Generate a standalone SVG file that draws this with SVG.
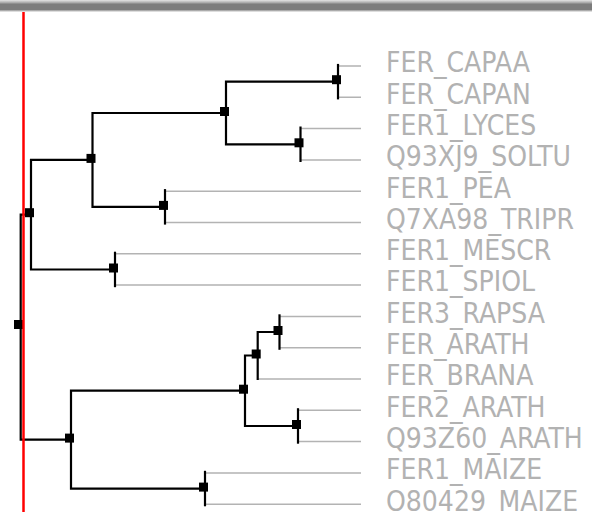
<svg xmlns="http://www.w3.org/2000/svg" width="592" height="512" viewBox="0 0 592 512">
  <defs>
    <linearGradient id="bar" x1="0" y1="0" x2="0" y2="1">
      <stop offset="0" stop-color="#e4e4e4"/>
      <stop offset="0.2" stop-color="#b0b0b0"/>
      <stop offset="0.35" stop-color="#7c7c7c"/>
      <stop offset="0.8" stop-color="#7c7c7c"/>
      <stop offset="0.92" stop-color="#c8c8c8"/>
      <stop offset="1" stop-color="#f4f4f4"/>
    </linearGradient>
  </defs>
  <style>
    .br { fill: none; stroke: #000; stroke-width: 2.2; stroke-linejoin: miter; stroke-linecap: square; }
    .lf { fill: none; stroke: #b3b3b3; stroke-width: 1.5; }
    .nd { fill: #000; }
    .lb { font-family: "DejaVu Sans Condensed", "DejaVu Sans", sans-serif; font-stretch: condensed; font-size: 28px; fill: #b2b2b2; }
  </style>
  <rect x="0" y="0" width="592" height="512" fill="#fff"/>
  <rect x="0" y="0" width="592" height="12" fill="url(#bar)"/>

  <g id="connectors">
    <!-- leaf branches -->
    <path class="lf" d="M338,66 H361 M338,97.3 H361 M300.5,128.6 H361 M300.5,159.9 H361 M165,191.2 H361 M165,222.5 H361 M115,253.8 H361 M115,285.1 H361 M279.5,316.4 H361 M279.5,347.7 H361 M257.7,379 H361 M298,410.3 H361 M298,441.6 H361 M205,472.9 H361 M205,504.2 H361"/>
    <!-- internal branches -->
    <path class="br" d="M31,214.7 H20.7 V439.6 H71"/>
    <path class="br" d="M92.5,159.9 H31 V269.5 H115"/>
    <path class="br" d="M226,113 H92.5 V206.9 H165"/>
    <path class="br" d="M338,81.7 H226 V144.3 H300.5"/>
    <path class="br" d="M245,390.7 H71 V488.6 H205"/>
    <path class="br" d="M257.7,355.5 H245 V426 H298"/>
    <path class="br" d="M279.5,332 H257.7 V379"/>
    <path class="br" d="M338,65 V98.3"/>
    <path class="br" d="M300.5,127.6 V160.9"/>
    <path class="br" d="M165,190.2 V223.5"/>
    <path class="br" d="M115,252.8 V286.1"/>
    <path class="br" d="M279.5,315.4 V348.7"/>
    <path class="br" d="M298,409.3 V442.6"/>
    <path class="br" d="M205,471.9 V505.2"/>
  </g>

  <g id="root"><rect class="nd" x="14" y="320" width="9" height="9"/></g>
  <g id="n7"><rect class="nd" x="25" y="208.2" width="9" height="9"/></g>
  <g id="n5"><rect class="nd" x="86.5" y="153.9" width="9" height="9"/></g>
  <g id="n3"><rect class="nd" x="220" y="107" width="9" height="9"/></g>
  <g id="n1"><rect class="nd" x="332" y="75.2" width="9" height="9"/></g>
  <g id="n2"><rect class="nd" x="294.5" y="138.3" width="9" height="9"/></g>
  <g id="n4"><rect class="nd" x="159" y="200.9" width="9" height="9"/></g>
  <g id="n6"><rect class="nd" x="109" y="263.5" width="9" height="9"/></g>
  <g id="n13"><rect class="nd" x="65" y="433.6" width="9" height="9"/></g>
  <g id="n11"><rect class="nd" x="239" y="384.7" width="9" height="9"/></g>
  <g id="n9"><rect class="nd" x="251.7" y="349.5" width="9" height="9"/></g>
  <g id="n8"><rect class="nd" x="273.5" y="326" width="9" height="9"/></g>
  <g id="n10"><rect class="nd" x="292" y="420" width="9" height="9"/></g>
  <g id="n12"><rect class="nd" x="199" y="482.6" width="9" height="9"/></g>

  <g id="leaf-FER_CAPAA"><text class="lb" x="386" y="72.3">FER_CAPAA</text></g>
  <g id="leaf-FER_CAPAN"><text class="lb" x="386" y="103.6">FER_CAPAN</text></g>
  <g id="leaf-FER1_LYCES"><text class="lb" x="386" y="134.9">FER1_LYCES</text></g>
  <g id="leaf-Q93XJ9_SOLTU"><text class="lb" x="386" y="166.2">Q93XJ9_SOLTU</text></g>
  <g id="leaf-FER1_PEA"><text class="lb" x="386" y="197.5">FER1_PEA</text></g>
  <g id="leaf-Q7XA98_TRIPR"><text class="lb" x="386" y="228.8">Q7XA98_TRIPR</text></g>
  <g id="leaf-FER1_MESCR"><text class="lb" x="386" y="260.1">FER1_MESCR</text></g>
  <g id="leaf-FER1_SPIOL"><text class="lb" x="386" y="291.4">FER1_SPIOL</text></g>
  <g id="leaf-FER3_RAPSA"><text class="lb" x="386" y="322.7">FER3_RAPSA</text></g>
  <g id="leaf-FER_ARATH"><text class="lb" x="386" y="354">FER_ARATH</text></g>
  <g id="leaf-FER_BRANA"><text class="lb" x="386" y="385.3">FER_BRANA</text></g>
  <g id="leaf-FER2_ARATH"><text class="lb" x="386" y="416.6">FER2_ARATH</text></g>
  <g id="leaf-Q93Z60_ARATH"><text class="lb" x="386" y="447.9">Q93Z60_ARATH</text></g>
  <g id="leaf-FER1_MAIZE"><text class="lb" x="386" y="479.2">FER1_MAIZE</text></g>
  <g id="leaf-O80429_MAIZE"><text class="lb" x="386" y="510.5">O80429_MAIZE</text></g>

  <line x1="23.5" y1="12" x2="23.5" y2="512" stroke="#ff0000" stroke-width="2.5"/>
</svg>
